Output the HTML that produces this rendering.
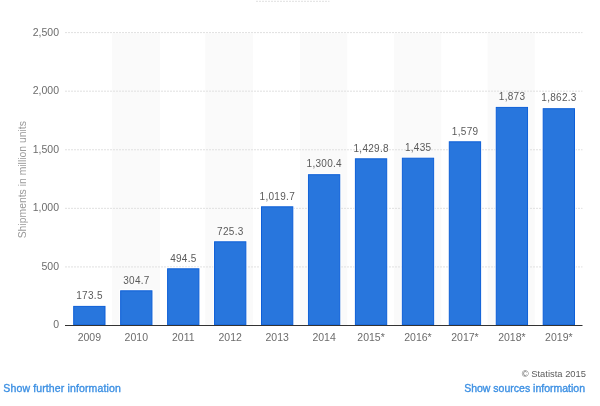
<!DOCTYPE html>
<html><head><meta charset="utf-8"><style>
html,body{margin:0;padding:0;background:#fff;width:600px;height:406px;overflow:hidden}
svg{position:absolute;left:0;top:0;will-change:transform}
text{font-family:"Liberation Sans",sans-serif}
.yl{font-size:10.5px;fill:#6c6c6c}
.xl{font-size:10.5px;fill:#6c6c6c}
.dl{font-size:10.0px;fill:#5a5a5a;letter-spacing:0.3px}
.at{font-size:10.4px;fill:#999}
.cp{font-size:9.4px;fill:#5c5c5c}
.lk{font-size:10.5px;fill:#3d90e3;stroke:#3d90e3;stroke-width:0.35px}
</style></head><body>
<svg width="600" height="406" viewBox="0 0 600 406">
<line x1="256" y1="1.3" x2="329.5" y2="1.3" stroke="#e6e6e6" stroke-width="1.2" stroke-dasharray="2,1"/>
<rect x="112.00" y="33.50" width="48.00" height="292.00" fill="#fafafa"/>
<rect x="205.20" y="33.50" width="47.80" height="292.00" fill="#fafafa"/>
<rect x="300.00" y="33.50" width="47.20" height="292.00" fill="#fafafa"/>
<rect x="394.00" y="33.50" width="47.30" height="292.00" fill="#fafafa"/>
<rect x="487.60" y="33.50" width="47.20" height="292.00" fill="#fafafa"/>
<line x1="65.00" y1="266.92" x2="582.50" y2="266.92" stroke="#e0e0e0" stroke-width="1" stroke-dasharray="2,1"/>
<text x="59" y="269.82" text-anchor="end" class="yl">500</text>
<line x1="65.00" y1="208.34" x2="582.50" y2="208.34" stroke="#e0e0e0" stroke-width="1" stroke-dasharray="2,1"/>
<text x="59" y="211.24" text-anchor="end" class="yl">1,000</text>
<line x1="65.00" y1="149.76" x2="582.50" y2="149.76" stroke="#e0e0e0" stroke-width="1" stroke-dasharray="2,1"/>
<text x="59" y="152.66" text-anchor="end" class="yl">1,500</text>
<line x1="65.00" y1="91.18" x2="582.50" y2="91.18" stroke="#e0e0e0" stroke-width="1" stroke-dasharray="2,1"/>
<text x="59" y="94.08" text-anchor="end" class="yl">2,000</text>
<line x1="65.00" y1="32.60" x2="582.50" y2="32.60" stroke="#e0e0e0" stroke-width="1" stroke-dasharray="2,1"/>
<text x="59" y="35.50" text-anchor="end" class="yl">2,500</text>
<text x="59" y="328.40" text-anchor="end" class="yl">0</text>
<rect x="72.20" y="304.90" width="34.3" height="20.60" fill="#fff" fill-opacity="0.8"/>
<rect x="73.70" y="306.40" width="31.299999999999997" height="18.60" fill="#2876dd" stroke="#0d5fd8" stroke-width="1"/>
<text x="89.50" y="299.17" text-anchor="middle" class="dl">173.5</text>
<text x="89.35" y="340.8" text-anchor="middle" class="xl">2009</text>
<rect x="119.15" y="289.30" width="34.3" height="36.20" fill="#fff" fill-opacity="0.8"/>
<rect x="120.65" y="290.80" width="31.299999999999997" height="34.20" fill="#2876dd" stroke="#0d5fd8" stroke-width="1"/>
<text x="136.45" y="283.80" text-anchor="middle" class="dl">304.7</text>
<text x="136.30" y="340.8" text-anchor="middle" class="xl">2010</text>
<rect x="166.10" y="267.30" width="34.3" height="58.20" fill="#fff" fill-opacity="0.8"/>
<rect x="167.60" y="268.80" width="31.299999999999997" height="56.20" fill="#2876dd" stroke="#0d5fd8" stroke-width="1"/>
<text x="183.40" y="261.56" text-anchor="middle" class="dl">494.5</text>
<text x="183.25" y="340.8" text-anchor="middle" class="xl">2011</text>
<rect x="213.05" y="240.30" width="34.3" height="85.20" fill="#fff" fill-opacity="0.8"/>
<rect x="214.55" y="241.80" width="31.299999999999997" height="83.20" fill="#2876dd" stroke="#0d5fd8" stroke-width="1"/>
<text x="230.35" y="234.52" text-anchor="middle" class="dl">725.3</text>
<text x="230.20" y="340.8" text-anchor="middle" class="xl">2012</text>
<rect x="260.00" y="205.30" width="34.3" height="120.20" fill="#fff" fill-opacity="0.8"/>
<rect x="261.50" y="206.80" width="31.299999999999997" height="118.20" fill="#2876dd" stroke="#0d5fd8" stroke-width="1"/>
<text x="277.30" y="200.03" text-anchor="middle" class="dl">1,019.7</text>
<text x="277.15" y="340.8" text-anchor="middle" class="xl">2013</text>
<rect x="306.95" y="173.20" width="34.3" height="152.30" fill="#fff" fill-opacity="0.8"/>
<rect x="308.45" y="174.70" width="31.299999999999997" height="150.30" fill="#2876dd" stroke="#0d5fd8" stroke-width="1"/>
<text x="324.25" y="167.15" text-anchor="middle" class="dl">1,300.4</text>
<text x="324.10" y="340.8" text-anchor="middle" class="xl">2014</text>
<rect x="353.90" y="157.30" width="34.3" height="168.20" fill="#fff" fill-opacity="0.8"/>
<rect x="355.40" y="158.80" width="31.299999999999997" height="166.20" fill="#2876dd" stroke="#0d5fd8" stroke-width="1"/>
<text x="371.20" y="151.98" text-anchor="middle" class="dl">1,429.8</text>
<text x="371.05" y="340.8" text-anchor="middle" class="xl">2015*</text>
<rect x="400.85" y="156.70" width="34.3" height="168.80" fill="#fff" fill-opacity="0.8"/>
<rect x="402.35" y="158.20" width="31.299999999999997" height="166.80" fill="#2876dd" stroke="#0d5fd8" stroke-width="1"/>
<text x="418.15" y="151.38" text-anchor="middle" class="dl">1,435</text>
<text x="418.00" y="340.8" text-anchor="middle" class="xl">2016*</text>
<rect x="447.80" y="140.30" width="34.3" height="185.20" fill="#fff" fill-opacity="0.8"/>
<rect x="449.30" y="141.80" width="31.299999999999997" height="183.20" fill="#2876dd" stroke="#0d5fd8" stroke-width="1"/>
<text x="465.10" y="134.50" text-anchor="middle" class="dl">1,579</text>
<text x="464.95" y="340.8" text-anchor="middle" class="xl">2017*</text>
<rect x="494.75" y="105.90" width="34.3" height="219.60" fill="#fff" fill-opacity="0.8"/>
<rect x="496.25" y="107.40" width="31.299999999999997" height="217.60" fill="#2876dd" stroke="#0d5fd8" stroke-width="1"/>
<text x="512.05" y="100.06" text-anchor="middle" class="dl">1,873</text>
<text x="511.90" y="340.8" text-anchor="middle" class="xl">2018*</text>
<rect x="541.70" y="107.20" width="34.3" height="218.30" fill="#fff" fill-opacity="0.8"/>
<rect x="543.20" y="108.70" width="31.299999999999997" height="216.30" fill="#2876dd" stroke="#0d5fd8" stroke-width="1"/>
<text x="559.00" y="101.31" text-anchor="middle" class="dl">1,862.3</text>
<text x="558.85" y="340.8" text-anchor="middle" class="xl">2019*</text>
<line x1="65.00" y1="325.50" x2="582.50" y2="325.50" stroke="#333" stroke-width="1.0"/>
<text transform="translate(25.9,179.7) rotate(-90)" text-anchor="middle" class="at">Shipments in million units</text>
<text x="586" y="376.9" text-anchor="end" class="cp">© Statista 2015</text>
<text x="3.3" y="391.5" class="lk" textLength="117.5">Show further information</text>
<text x="585" y="391.5" text-anchor="end" class="lk">Show sources information</text>
</svg>
</body></html>
